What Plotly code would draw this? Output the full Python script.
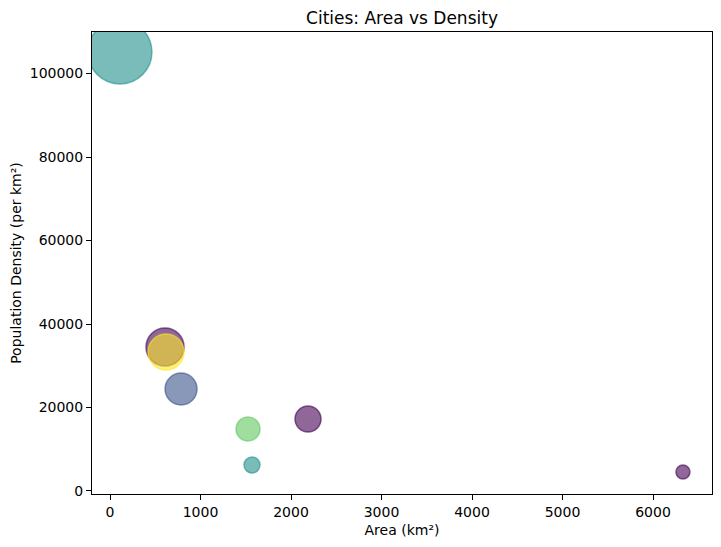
import plotly.graph_objects as go
from plotly.colors import sample_colorscale

# City data
area_km2 = [110, 608, 619, 785, 1525, 1569, 2188, 6331]
density_per_km2 = [105150, 34490, 33290, 24430, 14850, 6230, 17245, 4550]
# matplotlib "s" values (marker area, points^2)
bubble_s = [2120, 750, 672, 530, 299, 133, 350, 102]
# colour values on a viridis scale
colour_vals = [0.5, 0.0, 1.0, 0.25, 0.75, 0.5, 0.0, 0.0]

# convert marker area in pt^2 to a diameter in px (100 dpi)
sizes = [(s ** 0.5) * 100 / 72 for s in bubble_s]

# fill and edge both at alpha 0.6, so the edge shows as a darker ring
rgb = sample_colorscale("Viridis", colour_vals)
rgba = [c.replace("rgb(", "rgba(").replace(")", ", 0.6)") for c in rgb]

font = "DejaVu Sans"

fig = go.Figure()
fig.add_trace(go.Scatter(
    x=area_km2,
    y=density_per_km2,
    mode="markers",
    marker=dict(
        size=sizes,
        sizemode="diameter",
        color=rgba,
        opacity=1,  # plotly defaults bubbles to 0.7, alpha is in the colours
        line=dict(width=1.5, color=rgba),
    ),
    showlegend=False,
))

axis_style = dict(
    showgrid=False,
    zeroline=False,
    showline=True,
    linecolor="black",
    linewidth=1,
    mirror=True,
    ticks="outside",
    ticklen=5,
    tickwidth=1,
    tickcolor="black",
    automargin=False,
    tickfont=dict(family=font, size=14, color="black"),
)

fig.update_layout(
    width=721,
    height=547,
    margin=dict(l=92, r=9, t=32, b=53),
    paper_bgcolor="white",
    plot_bgcolor="white",
    font=dict(family=font, color="black"),
    title=dict(
        text="Cities: Area vs Density",
        x=0.5,
        xref="paper",
        xanchor="center",
        y=1 - 18 / 547,
        yanchor="middle",
        font=dict(family=font, size=17, color="black"),
    ),
    xaxis=dict(
        axis_style,
        range=[-199, 6652],
        tickvals=[0, 1000, 2000, 3000, 4000, 5000, 6000],
        title=dict(text="Area (km²)", font=dict(family=font, size=14), standoff=6),
    ),
    yaxis=dict(
        axis_style,
        range=[-720, 109940],
        tickvals=[0, 20000, 40000, 60000, 80000, 100000],
        tickformat="d",
        title=dict(text="Population Density (per km²)", font=dict(family=font, size=14), standoff=4),
    ),
)

# drop the browser's default page margin so the figure sits at the top-left corner
fig.write_html(
    "out.html",
    config={"displayModeBar": False},
    post_script="document.body.style.margin='0';",
)
